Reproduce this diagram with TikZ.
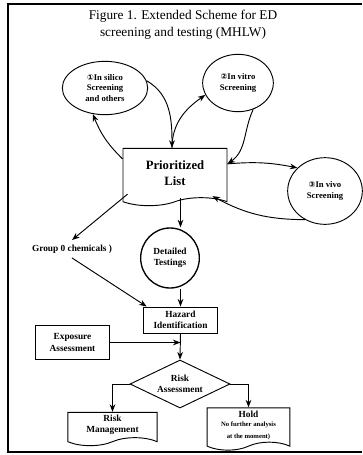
\documentclass[tikz,border=0pt]{standalone}
\usepackage{fontspec}
\setmainfont{Liberation Serif}
\newfontfamily\circfont{DejaVu Sans}
\usepackage{tikz}
\usetikzlibrary{shapes.geometric, shapes.symbols, arrows.meta, positioning, calc}
\newcommand{\cnum}[1]{{\circfont\fontsize{6}{7}\selectfont #1}}
\newcommand{\tinytxt}{\fontsize{5}{5.8}\selectfont}
\tikzset{
  oval/.style={ellipse, draw, line width=0.7pt, align=center, font=\fontsize{6.5}{7.8}\selectfont\bfseries, inner sep=1pt},
  doc/.style={tape, tape bend top=none, tape bend height=6pt, draw, line width=0.7pt, align=center, font=\fontsize{7}{8.4}\selectfont\bfseries, inner sep=2pt},
  box/.style={rectangle, draw, line width=0.7pt, align=center, font=\fontsize{7}{8.4}\selectfont\bfseries, inner sep=2pt},
  gate/.style={diamond, aspect=2.1, draw, line width=0.7pt, align=center, font=\fontsize{7}{8.4}\selectfont\bfseries, inner sep=0pt},
  arr/.style={-{Stealth[length=2mm]}, line width=0.7pt},
}
\begin{document}
\begin{tikzpicture}[x=0.75pt, y=-0.75pt]
\useasboundingbox (0,0) rectangle (362,455);
% frame
\draw[line width=0.8pt] (362,4) -- (8,4) -- (8,452) -- (362,452);
\node[align=center, font=\fontsize{10}{12.5}\selectfont] (title) at (183,25) {Figure 1. Extended Scheme for ED\\screening and testing (MHLW)};
% screening loop
\node[oval, minimum width=64pt, minimum height=40pt] (e1) at (105,88) {\cnum{①}In silico\\Screening\\and others};
\node[oval, minimum width=53pt, minimum height=43pt] (e2) at (238,83) {\cnum{②}In vitro\\Screening};
\node[oval, minimum width=56pt, minimum height=50pt] (e3) at (325,191) {\cnum{③}In vivo\\Screening};
\node[doc, minimum width=78pt, minimum height=43pt, font=\fontsize{9.5}{12}\selectfont\bfseries] (pl) at (175,173) {Prioritized\\List};
\node[oval, line width=1pt, minimum width=44pt, minimum height=45pt, font=\fontsize{7}{8.4}\selectfont\bfseries] (dt) at (170,258) {Detailed\\Testings};
\node[font=\fontsize{7}{8.4}\selectfont\bfseries] (g0) at (72,249) {Group 0 chemicals )};
% assessment
\node[box, minimum width=56pt, minimum height=19.5pt] (hz) at (180.5,320) {Hazard\\Identification};
\node[box, minimum width=56pt, minimum height=26pt] (ex) at (72.5,342.5) {Exposure\\Assessment};
\node[gate, minimum width=75pt, minimum height=36pt] (rk) at (180,384) {Risk\\Assessment};
\node[doc, minimum width=67pt, minimum height=25pt] (rm) at (112.5,425) {Risk\\Management};
\node[doc, minimum width=62pt, minimum height=25.5pt] (hd) at (248.5,425) {Hold\\[-1pt]\tinytxt No further analysis\\\tinytxt at the moment)};
% connectors
\draw[arr] ($(pl.north west)+(0,11)$) to[bend left=12] (e1.245);
\draw[arr] (e1.10) to[out=-30, in=90] ($(pl.north)+(-3,0)$);
\draw[arr] ($(pl.north)+(-3,0)$) to[out=90, in=215] (e2.200);
\draw[arr] (e2.-60) to[out=-115, in=35] ($(pl.north east)+(0,16)$);
\draw[arr] ($(pl.north east)+(0,16)$) to[bend left=8] (e3.140);
\draw[arr] (e3.235) to[bend left=14] ($(pl.south east)+(-15,-2)$);
\draw[arr] ($(pl.south west)+(5,-4)$) -- (g0.north);
\draw[arr] (pl.south -| hz.north) -- (hz |- dt.north);
\draw[arr] (g0.south) -- ($(hz.north west)+(4,0)$);
\draw[arr] (hz |- dt.south) -- (hz.north);
\draw[arr] (ex.east) -- (ex.east -| hz.south);
\draw[arr] (hz.south) -- (rk.north);
\draw[arr] (rk.west) -| (rm.north);
\draw[arr] (rk.east) -| (hd.north);
\end{tikzpicture}
\end{document}
